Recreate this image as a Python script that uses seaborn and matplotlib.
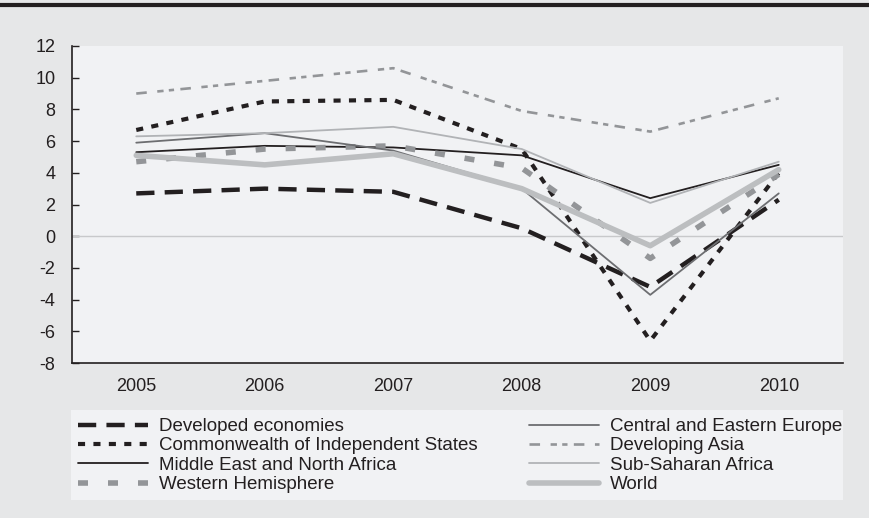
import matplotlib
matplotlib.use("Agg")
import matplotlib.pyplot as plt
from matplotlib.lines import Line2D
from matplotlib.patches import Rectangle
import seaborn as sns
import numpy as np

years = ["2005", "2006", "2007", "2008", "2009", "2010"]
developed = [2.7, 3.0, 2.8, 0.5, -3.2, 2.3]
cis = [6.7, 8.5, 8.6, 5.5, -6.6, 4.0]
mena = [5.3, 5.7, 5.6, 5.1, 2.4, 4.5]
west_hem = [4.7, 5.5, 5.7, 4.3, -1.4, 3.9]
cee = [5.9, 6.5, 5.4, 3.0, -3.7, 2.7]
dev_asia = [9.0, 9.8, 10.6, 7.9, 6.6, 8.7]
ssa = [6.3, 6.5, 6.9, 5.5, 2.1, 4.7]
world = [5.1, 4.5, 5.2, 3.0, -0.6, 4.2]
yticks = [-8, -6, -4, -2, 0, 2, 4, 6, 8, 10, 12]

sns.set_theme(style="white")
plt.rcParams["font.family"] = ["Liberation Sans", "DejaVu Sans"]

FS = 13
LFS = 13.5
fig = plt.figure(figsize=(8.69, 5.18), dpi=100, facecolor="#e6e7e8")
ax = fig.add_axes([72/869, 1-363/518, (843-72)/869, (363-46)/518])
ax.set_facecolor("#f1f2f4")

x = np.arange(len(years))
series = [
    ("Developed economies", developed, dict(color="#231f20", lw=3.2, dashes=(4.1, 2.3))),
    ("Commonwealth of Independent States", cis, dict(color="#231f20", lw=3.0, dashes=(1.7, 2.0))),
    ("Middle East and North Africa", mena, dict(color="#231f20", lw=1.3)),
    ("Western Hemisphere", west_hem, dict(color="#939598", lw=4.0, dashes=(1.8, 3.6))),
    ("Central and Eastern Europe", cee, dict(color="#6d6e71", lw=1.3)),
    ("Developing Asia", dev_asia, dict(color="#939598", lw=1.9, dashes=(4, 4, 2.4, 2, 2, 2.4))),
    ("Sub-Saharan Africa", ssa, dict(color="#b1b3b6", lw=1.3)),
    ("World", world, dict(color="#bcbec0", lw=4.0)),
]

ax.axhline(0, color="#c8c9cb", lw=1.0, zorder=1)

handles = []
for name, vals, st in series:
    kw = dict(color=st["color"], linewidth=st["lw"])
    if "dashes" in st:
        kw["dashes"] = st["dashes"]
    sns.lineplot(x=x, y=vals, ax=ax, label=name, zorder=3, **kw)
    h = Line2D([], [], color=st["color"], linewidth=st["lw"])
    if "dashes" in st:
        h.set_dashes(st["dashes"])
    handles.append(h)

ax.set_xlim(-0.5, 5.5)
ax.set_ylim(-8, 12)
ax.set_yticks(yticks)
ax.set_yticklabels([str(v) for v in yticks], fontsize=FS, color="#231f20")
ax.set_xticks(np.arange(-0.5, 6.0, 1.0))
ax.set_xticklabels([])
ax.set_xticks(x, minor=True)
ax.set_xticklabels(years, minor=True, fontsize=FS, color="#231f20")
ax.tick_params(axis="x", which="major", direction="in", length=6, color="#231f20", width=1)
ax.tick_params(axis="x", which="minor", length=0, pad=11)
ax.tick_params(axis="y", direction="in", length=5, color="#231f20", width=1, left=True, pad=12)
for s in ["top", "right"]:
    ax.spines[s].set_visible(False)
for s in ["left", "bottom"]:
    ax.spines[s].set_color("#231f20")
    ax.spines[s].set_linewidth(1.2)
ax.set_xlabel("")
ax.set_ylabel("")
if ax.get_legend():
    ax.get_legend().remove()

fig.add_artist(Rectangle((71/869, 18/518), (843-71)/869, 90/518, transform=fig.transFigure,
                         facecolor="#f1f2f4", edgecolor="none", zorder=0))
leg = fig.legend(handles, [s[0] for s in series], ncol=2,
                 bbox_to_anchor=(78/869, 20/518, (842-78)/869, 80/518),
                 bbox_transform=fig.transFigure, loc="upper left", mode="expand",
                 frameon=False, fontsize=LFS, handlelength=3.75,
                 labelspacing=0.12, handletextpad=0.55, borderpad=0.0, borderaxespad=0)
for t in leg.get_texts():
    t.set_color("#231f20")

fig.add_artist(Line2D([0, 1], [1-4.5/518, 1-4.5/518], transform=fig.transFigure,
                      color="#231f20", linewidth=3))

fig.savefig("out.png", dpi=100, facecolor=fig.get_facecolor())
